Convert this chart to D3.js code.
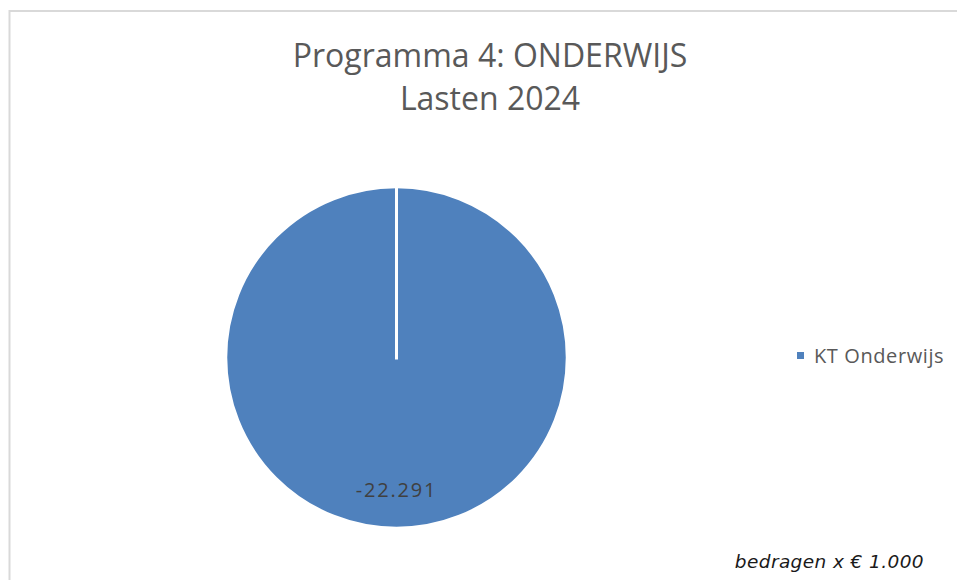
<!DOCTYPE html>
<html><head><meta charset="utf-8">
<script src="https://cdn.jsdelivr.net/npm/d3@7"></script>
<style>html,body{margin:0;padding:0;background:#fff;}svg{display:block;}</style>
</head><body>
<svg id="chart" width="957" height="580"></svg>
<script>
const titleLines = ["Programma 4: ONDERWIJS", "Lasten 2024"];
const categories = ["KT Onderwijs"];
const values = [-22291];
const footnote = "bedragen x € 1.000";
const colors = ["#4f81bd"];

const svg = d3.select("#chart");
const W = 957, H = 580;

svg.append("rect").attr("x", 0).attr("y", 0).attr("width", W).attr("height", H).attr("fill", "#fff");
svg.append("rect").attr("x", 9.5).attr("y", 11).attr("width", 960).attr("height", 600)
  .attr("fill", "none").attr("stroke", "#d9d9d9").attr("stroke-width", 2);

const title = svg.append("text").attr("text-anchor", "middle")
  .attr("font-family", "'Open Sans', sans-serif").attr("font-size", 32).attr("fill", "#595959");
titleLines.forEach((t, i) => {
  title.append("tspan").attr("x", 490).attr("y", 67 + i * 43).text(t);
});

const cx = 396.5, cy = 357.5, r = 170.5;
const fmt = v => d3.format(",")(v).replace(/,/g, ".").replace(/\u2212/g, "-");
const pie = d3.pie().sort(null).value(d => Math.abs(d.value));
const data = categories.map((c, i) => ({ cat: c, value: values[i] }));
const arcs = pie(data);
const arc = d3.arc().innerRadius(0).outerRadius(r);
const labelArc = d3.arc().innerRadius(r * 0.78).outerRadius(r * 0.78);
const color = d3.scaleOrdinal().domain(categories).range(colors);

const g = svg.append("g").attr("transform", `translate(${cx},${cy})`);
g.selectAll("path.slice").data(arcs).join("path").attr("class", "slice")
  .attr("d", arc).attr("fill", d => color(d.data.cat))
  .attr("stroke", "#fff").attr("stroke-width", 2.5).attr("stroke-linejoin", "round");
// radial slice edges (visible even for a single full slice)
g.selectAll("line.edge").data(arcs).join("line").attr("class", "edge")
  .attr("x1", 0).attr("y1", 2)
  .attr("x2", d => r * Math.sin(d.startAngle)).attr("y2", d => -r * Math.cos(d.startAngle))
  .attr("stroke", "#fff").attr("stroke-width", 3);
g.selectAll("text.lbl").data(arcs).join("text").attr("class", "lbl")
  .attr("transform", d => `translate(${labelArc.centroid(d)})`)
  .attr("text-anchor", "middle").attr("dy", "0.35em")
  .attr("font-family", "'Open Sans', sans-serif").attr("font-size", 20).attr("letter-spacing", 1.8)
  .attr("fill", "#404040")
  .text(d => fmt(d.data.value));

const leg = svg.append("g").attr("transform", "translate(797,352)");
categories.forEach((c, i) => {
  const row = leg.append("g").attr("transform", `translate(0,${i * 24})`);
  row.append("rect").attr("width", 7).attr("height", 7).attr("fill", color(c));
  row.append("text").attr("x", 17).attr("y", 4).attr("dy", "0.35em")
    .attr("font-family", "'Open Sans', sans-serif").attr("font-size", 20).attr("letter-spacing", 0.6)
    .attr("fill", "#595959").text(c);
});

svg.append("text").attr("x", 924).attr("y", 568).attr("text-anchor", "end")
  .attr("font-family", "'DejaVu Sans', sans-serif").attr("font-style", "italic")
  .attr("font-size", 18.5).attr("letter-spacing", 0.4).attr("fill", "#1a1a1a").text(footnote);
</script>
</body></html>
